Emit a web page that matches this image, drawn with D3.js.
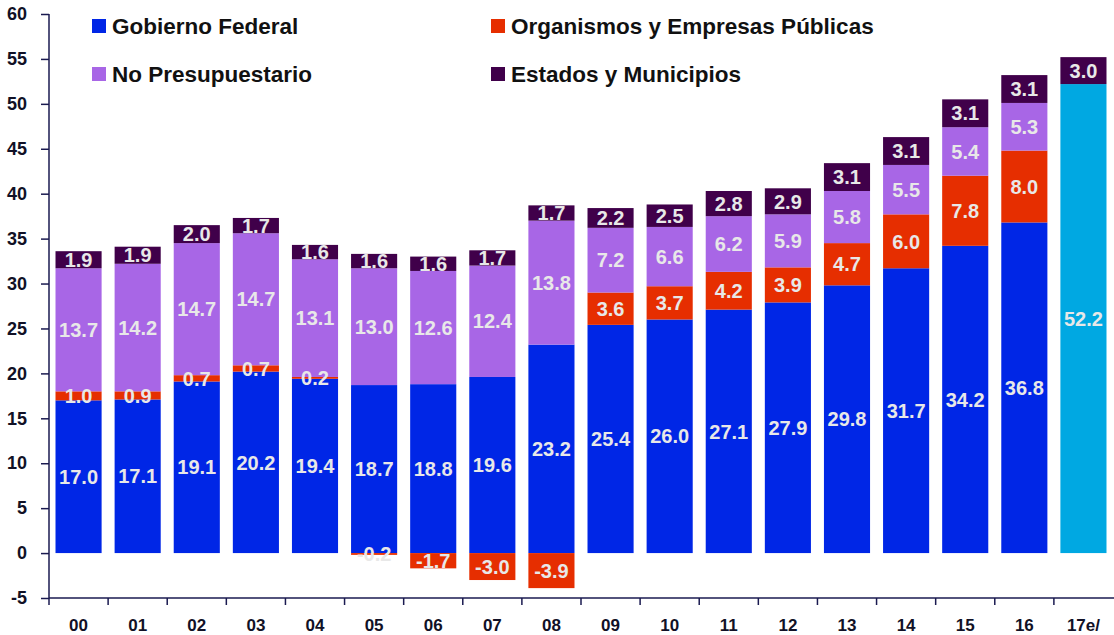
<!DOCTYPE html>
<html><head><meta charset="utf-8">
<script src="https://cdn.jsdelivr.net/npm/d3@7"></script>
<style>body{margin:0;background:#fff}svg{display:block}</style>
</head><body><svg id="c" width="1114" height="635"></svg>
<script>
const categories = ["00","01","02","03","04","05","06","07","08","09","10","11","12","13","14","15","16","17e/"];
const gobiernoFederal = [17.0,17.1,19.1,20.2,19.4,18.7,18.8,19.6,23.2,25.4,26.0,27.1,27.9,29.8,31.7,34.2,36.8,null];
const estimado2017 = [null,null,null,null,null,null,null,null,null,null,null,null,null,null,null,null,null,52.2];
const organismos = [1.0,0.9,0.7,0.7,0.2,-0.2,-1.7,-3.0,-3.9,3.6,3.7,4.2,3.9,4.7,6.0,7.8,8.0,null];
const noPresupuestario = [13.7,14.2,14.7,14.7,13.1,13.0,12.6,12.4,13.8,7.2,6.6,6.2,5.9,5.8,5.5,5.4,5.3,null];
const estadosMunicipios = [1.9,1.9,2.0,1.7,1.6,1.6,1.6,1.7,1.7,2.2,2.5,2.8,2.9,3.1,3.1,3.1,3.1,3.0];
const yTicks = [-5,0,5,10,15,20,25,30,35,40,45,50,55,60];

const series = [
  {key:"gf", name:"Gobierno Federal", values:gobiernoFederal, color:"#0026e6"},
  {key:"e17", name:null, values:estimado2017, color:"#00a8e2"},
  {key:"oep", name:"Organismos y Empresas Públicas", values:organismos, color:"#e62e00"},
  {key:"np", name:"No Presupuestario", values:noPresupuestario, color:"#a866e6"},
  {key:"em", name:"Estados y Municipios", values:estadosMunicipios, color:"#40004a"}
];

const rows = categories.map((c,i)=>{const r={cat:c}; series.forEach(s=>r[s.key]=s.values[i]); return r;});
const stack = d3.stack().keys(series.map(s=>s.key)).value((d,k)=>d[k]==null?0:d[k]).offset(d3.stackOffsetDiverging);
const stacked = stack(rows);

const svg = d3.select("#c");
const x = d3.scaleBand().domain(categories).range([49,1113]).paddingInner(0.22).paddingOuter(0.11);
const y = d3.scaleLinear().domain([-5,60]).range([598,14]);
const font = "Liberation Sans, Arial, sans-serif";

// bars
stacked.forEach((layer,li)=>{
  const s = series[li];
  const g = svg.append("g");
  layer.forEach((d,i)=>{
    const v = rows[i][s.key];
    if(v==null) return;
    g.append("rect").attr("x",x(categories[i])).attr("width",x.bandwidth())
      .attr("y",y(Math.max(d[0],d[1]))).attr("height",Math.abs(y(d[0])-y(d[1])))
      .attr("fill",s.color);
  });
});
// labels
stacked.forEach((layer,li)=>{
  const s = series[li];
  layer.forEach((d,i)=>{
    const v = rows[i][s.key];
    if(v==null) return;
    svg.append("text").attr("x",x(categories[i])+x.bandwidth()/2)
      .attr("y",y((d[0]+d[1])/2)).attr("dy","0.36em")
      .attr("text-anchor","middle").attr("font-family",font).attr("font-weight","bold")
      .attr("font-size",20).attr("fill","#e8e8e8").text(v.toFixed(1));
  });
});

// y axis
const yAxis = svg.append("g").attr("transform","translate(49,0)")
  .call(d3.axisLeft(y).tickValues(yTicks).tickSize(8).tickPadding(14).tickFormat(d=>String(d)));
yAxis.select(".domain").attr("stroke","#1a1a50").attr("stroke-width",1.5).attr("d","M0,14V598");
yAxis.selectAll(".tick line").attr("stroke","#1a1a50").attr("stroke-width",1.5);
yAxis.selectAll("text").attr("font-family",font).attr("font-weight","bold")
  .attr("font-size",18).attr("fill","#111126");

// x axis
const xAxis = svg.append("g").attr("transform","translate(0,598)")
  .call(d3.axisBottom(x).tickSize(0).tickPadding(21));
xAxis.select(".domain").attr("stroke","#1a1a50").attr("stroke-width",1.5).attr("d","M49,0H1114");
xAxis.selectAll("text").attr("font-family",font).attr("font-weight","bold")
  .attr("font-size",17).attr("fill","#111126");
xAxis.selectAll(".bnd").data(categories.map(c=>x(c)-x.step()*x.paddingInner()/2)).enter().append("line")
  .attr("x1",d=>d).attr("x2",d=>d).attr("y1",0).attr("y2",7).attr("stroke","#1a1a50").attr("stroke-width",1.5);

// legend
const legendItems = [
  {s:series[0], x:92, y:19},
  {s:series[2], x:491, y:19},
  {s:series[3], x:92, y:67},
  {s:series[4], x:491, y:67}
];
legendItems.forEach(l=>{
  svg.append("rect").attr("x",l.x).attr("y",l.y).attr("width",14).attr("height",14).attr("fill",l.s.color);
  svg.append("text").attr("x",l.x+20).attr("y",l.y+15).attr("font-family",font)
    .attr("font-weight","bold").attr("font-size",22.5).attr("fill","#111111").text(l.s.name);
});
</script></body></html>
